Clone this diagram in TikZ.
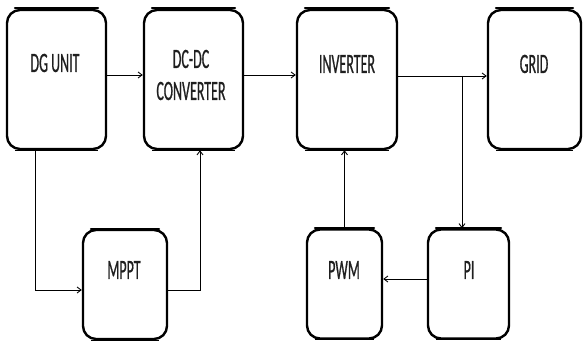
\documentclass[tikz,border=0pt]{standalone}
\usepackage{fontspec}
\newfontfamily\labfont[FakeStretch=0.5,FakeBold=0.6]{Carlito}
\usetikzlibrary{arrows.meta}
\begin{document}
\begin{tikzpicture}[x=1pt,y=-1pt,
  blk/.style={draw=black,line width=2.4pt,rounded corners=13pt,inner sep=0pt,minimum height=139pt},
  sblk/.style={blk,minimum height=109pt},
  lab/.style={font=\labfont\fontsize{28}{36}\selectfont,text=black!88,inner sep=0pt,align=center},
  topedge/.style={line width=2pt,line cap=round},
  arr/.style={line width=0.9pt,-{Straight Barb[length=4pt,width=6pt]}}]
\useasboundingbox (0,0) rectangle (584,342);
\node[blk,minimum width=99pt] (DG) at (56.5,79.5) {};
\node[blk,minimum width=99pt] (DC) at (193.5,79.5) {};
\node[blk,minimum width=100pt] (INV) at (347,79.5) {};
\node[blk,minimum width=93pt] (GRID) at (534.5,79.5) {};
\node[sblk,minimum width=84pt] (MPPT) at (125,284.5) {};
\node[sblk,minimum width=75pt] (PWM) at (344.5,284) {};
\node[sblk,minimum width=81pt] (PI) at (468.5,284) {};
\foreach \b in {DG,DC,INV,GRID,MPPT,PWM,PI}{
  \draw[topedge] ([xshift=9pt,yshift=0.3pt]\b.north west) -- ([xshift=-9pt,yshift=0.3pt]\b.north east);
  \draw[line width=1pt] ([xshift=9pt,yshift=0pt]\b.south west) -- ([xshift=-9pt,yshift=0pt]\b.south east);
}
\node[lab] (tDG) at (55,63) {DG UNIT};
\node[lab] (tDC) at (191,75) {DC-DC\\[-4pt]CONVERTER};
\node[lab] (tINV) at (347,64) {INVERTER};
\node[lab] (tGRID) at (534,64) {GRID};
\node[lab] (tMPPT) at (124,270) {MPPT};
\node[lab] (tPWM) at (344,270) {PWM};
\node[lab] (tPI) at (469,270) {PI};
\coordinate (c1) at (35,0);
\coordinate (c2) at (200,0);
\coordinate (tap) at (462,76);
\draw[arr] ([yshift=4.5pt]DG.east) -- ([yshift=4.5pt]DC.west);
\draw[arr] ([yshift=4.5pt]DC.east) -- ([yshift=4.5pt]INV.west);
\draw[arr] ([yshift=3.5pt]INV.east) -- ([yshift=3.5pt]GRID.west);
\draw[arr] (tap) -- (tap |- PI.north);
\draw[arr] (DG.south -| c1) |- ([yshift=-5.5pt]MPPT.west);
\draw[arr] ([yshift=-5.5pt]MPPT.east) -| (DC.south -| c2);
\draw[arr] ([yshift=5pt]PI.west) -- ([yshift=5pt]PWM.east);
\draw[arr] (PWM.north) -- (PWM.north |- INV.south);
\end{tikzpicture}
\end{document}
